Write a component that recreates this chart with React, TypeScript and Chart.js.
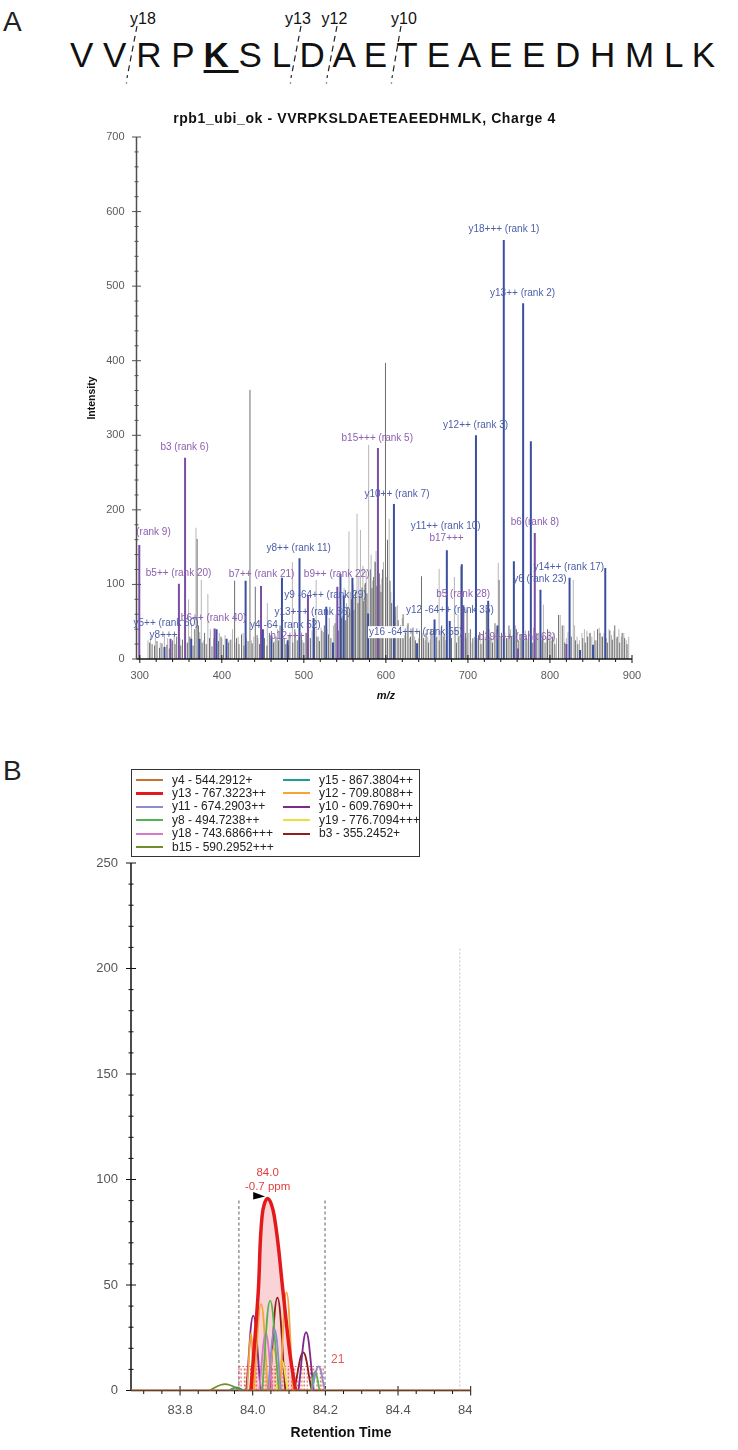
import { useEffect, useRef } from 'react'
import { Chart, registerables } from 'chart.js'

Chart.register(...registerables)

const FONT = '"Liberation Sans", Arial, Helvetica, sans-serif'

// ---------- A: peptide header ----------
const residues = ['V', 'V', 'R', 'P', 'K', 'S', 'L', 'D', 'A', 'E', 'T', 'E', 'A', 'E', 'E', 'D', 'H', 'M', 'L', 'K']
const modifiedResidue = 4
const cleavageLabels = ['y18', 'y13', 'y12', 'y10']

// ---------- A: annotated MS/MS spectrum ----------
const spectrumTitle = 'rpb1_ubi_ok - VVRPKSLDAETEAEEDHMLK, Charge 4'
const mzTicks = [300, 400, 500, 600, 700, 800, 900]
const intensityTicks = [0, 100, 200, 300, 400, 500, 600, 700]

// [m/z, intensity]
const yIonPeaks = [
  [330.15, 16], [362.7, 27], [372.8, 27], [393.6, 40], [405.8, 27], [429, 105], [450, 40], [460.4, 32],
  [473.3, 109], [480.3, 25], [494.7, 135], [511.9, 55], [527.3, 70], [535.5, 22], [544.6, 114], [548.6, 85],
  [559.2, 109], [578.3, 61], [609.8, 208], [638, 21], [659.3, 53], [674.3, 146], [677.8, 51], [692.5, 127],
  [709.8, 300], [724.7, 78], [736, 45], [743.7, 562], [756, 131], [767.3, 477], [776.7, 292], [788.4, 93],
  [823.9, 109], [836.6, 12], [852.5, 19], [867.4, 122],
]
const bIonPeaks = [
  [299.4, 153], [337.5, 27], [347.7, 101], [355.2, 270], [391.2, 41], [447.8, 98], [480.6, 18], [505, 85],
  [540.8, 97], [590.3, 283], [694.4, 72], [761, 14], [781.5, 169], [820, 20],
]
const darkPeaks = [
  [312, 22], [315, 20], [318, 18], [321, 24], [324, 15], [327, 21], [333, 19], [336, 14], [340, 25], [343, 20],
  [345, 30], [350, 18], [352, 26], [358, 22], [361, 30], [365, 18], [367, 40], [369.9, 161], [371.5, 45], [376, 22],
  [379, 35], [381, 20], [385, 28], [388, 17], [396, 24], [399, 30], [402, 19], [408, 22], [411, 26], [415.6, 105],
  [418, 28], [421, 20], [424, 33], [427, 18], [432, 24], [434.3, 361], [437, 21], [440.8, 97], [443, 32], [446, 20],
  [452, 28], [455, 18], [458, 35], [463, 22], [466, 30], [469, 25], [471, 45], [476, 28], [478, 20], [483, 31],
  [486.5, 22], [489, 40], [492, 25], [497, 30], [500, 22], [503, 35], [508, 28], [513, 42], [516, 30], [519, 24],
  [522, 38], [525, 45], [530, 33], [533, 28], [538, 48], [542, 38], [546, 55], [551, 52], [553, 70], [556, 62],
  [558, 80], [561, 66], [563, 90], [566, 75], [568, 85], [571, 96], [573, 78], [575, 102], [577, 88], [581, 120],
  [583, 95], [585, 110], [587, 130], [589, 98], [592, 115], [594, 90], [596, 120], [599.5, 397], [602, 160], [605, 105],
  [607, 75], [612, 70], [615, 52], [618, 45], [621, 60], [624, 35], [627, 48], [630, 30], [633, 42], [636, 25],
  [641, 38], [643.4, 111], [646, 28], [649, 35], [652, 22], [655, 40], [662, 30], [665, 25], [668, 45], [671, 33],
  [680, 28], [686, 22], [689, 30], [697, 35], [699, 66], [703, 40], [706, 28], [713, 32], [716, 20], [719, 38],
  [722.5, 66], [727, 30], [730, 22], [733, 48], [738, 106], [741, 35], [747, 28], [750, 45], [753, 30], [759, 40],
  [762, 25], [765, 33], [771, 28], [774, 38], [779, 22], [784, 35], [791, 30], [794, 22], [797, 40], [800, 25],
  [803, 30], [806, 20], [810.5, 59], [815, 45], [818, 22], [826, 30], [831, 25], [834, 20], [840, 28], [843, 22],
  [846, 30], [849, 35], [855, 25], [858, 40], [861, 35], [864, 30], [870, 22], [873, 38], [876, 26], [879, 45],
  [882, 30], [885, 22], [888, 35], [891, 28], [894, 20],
]
const lightPeaks = [
  [310, 25], [313, 30], [319, 28], [325, 22], [330, 34], [334, 28], [338, 22], [342, 35], [349, 28], [356, 20],
  [359.5, 80], [363, 48], [368.5, 176], [373, 36], [375, 106], [378, 25], [383, 87], [386, 40], [390, 28], [394, 22],
  [397, 35], [400, 28], [404, 32], [409, 25], [413, 40], [416, 22], [420, 30], [426, 35], [430, 28], [436, 25],
  [439, 30], [444, 28], [448, 22], [451, 38], [455.5, 75], [461, 30], [464, 24], [468, 40], [474, 30], [479, 22],
  [481, 32], [486, 130], [490, 28], [494, 32], [498, 25], [502, 35], [506, 28], [510, 38], [515, 106], [518, 30],
  [521, 42], [524, 36], [528, 40], [531, 55], [536, 45], [539, 60], [541, 52], [544, 70], [547, 58], [549, 95],
  [552, 75], [555, 171], [557, 90], [560, 100], [562, 82], [564.8, 195], [567, 110], [569, 173], [572, 125], [574, 100],
  [576, 118], [579, 287], [582, 140], [584, 105], [586.4, 131], [588, 145], [591, 120], [593, 100], [595, 108], [597, 130],
  [601, 110], [604, 188], [606, 90], [609, 80], [611, 60], [614, 72], [617, 40], [620, 55], [623, 32], [626, 45],
  [629, 28], [632, 38], [635, 30], [640, 28], [645, 35], [648, 25], [651, 30], [654, 26], [657, 35], [661, 28],
  [664.9, 121], [667, 38], [670, 30], [673, 25], [679, 35], [683.5, 110], [685, 42], [688, 60], [691, 124], [695, 30],
  [698, 28], [701, 35], [705, 22], [708, 30], [712, 28], [715, 35], [718, 25], [721, 30], [726, 40], [729, 28],
  [732, 35], [735, 40], [737, 129], [740, 30], [745, 35], [748, 28], [752, 40], [755, 32], [758, 45], [760, 35],
  [764, 28], [768, 30], [770, 38], [773, 25], [777, 30], [780, 42], [783, 28], [786, 35], [790, 25], [792, 73],
  [796, 30], [799, 38], [802, 25], [805, 35], [808, 28], [812.5, 59], [817, 45], [820, 28], [822, 36], [828.4, 106],
  [830, 45], [833, 30], [836, 25], [839, 35], [842, 40], [845, 38], [848, 35], [851, 30], [854, 38], [857, 25],
  [860, 42], [863, 30], [866, 35], [869, 28], [872, 40], [875, 32], [878, 38], [881, 28], [884, 40], [887, 30],
  [890, 35], [893, 25], [896, 30],
]

const fragmentLabels = [
  '(rank 9)', 'b3 (rank 6)', 'b5++ (rank 20)', 'y8++ (rank 11)', 'b7++ (rank 21)', 'b9++ (rank 22)',
  'y9 -64++ (rank 29)', 'y13+++ (rank 36)', 'y4 -64 (rank 52)', 'b12+++', 'y8+++', 'y5++ (rank 60)',
  'b6++ (rank 40)', 'b15+++ (rank 5)', 'y10++ (rank 7)', 'y16 -64+++ (rank 55)', 'y18+++ (rank 1)',
  'y13++ (rank 2)', 'y12++ (rank 3)', 'b6 (rank 8)', 'y11++ (rank 10)', 'b17+++', 'b5 (rank 28)',
  'y12 -64++ (rank 35)', 'b19+++ (rank 63)', 'y6 (rank 23)', 'y14++ (rank 17)',
]
const fragmentIonType = [
  'b', 'b', 'b', 'y', 'b', 'b', 'y', 'y', 'y', 'b', 'y', 'y', 'b', 'b', 'y', 'y', 'y', 'y', 'y', 'b', 'y', 'b', 'b',
  'y', 'b', 'y', 'y',
]
// label anchors (m/z, intensity) of each annotation text
const fragmentLabelMz = [
  316.7, 354.6, 347.3, 493.7, 448.5, 540, 526.3, 510.8, 477.5, 480, 329, 332, 390, 589.5, 613.5, 636.4, 743.8,
  766.6, 709.3, 781.7, 673, 674, 694.2, 678, 759.7, 787.8, 823,
]
const fragmentLabelIntensity = [
  170, 284, 115, 149, 113, 113, 86, 63, 45.6, 30.8, 32, 48, 55, 296, 221, 36, 576, 491, 314, 184, 178, 162, 87, 66,
  29.5, 107, 123,
]
const boxedLabel = 'y16 -64+++ (rank 55)'

// ---------- B: extracted ion chromatograms ----------
const transitionNames = [
  'y4 - 544.2912+', 'y13 - 767.3223++', 'y11 - 674.2903++', 'y8 - 494.7238++', 'y18 - 743.6866+++',
  'b15 - 590.2952+++', 'y15 - 867.3804++', 'y12 - 709.8088++', 'y10 - 609.7690++', 'y19 - 776.7094+++',
  'b3 - 355.2452+',
]
const transitionColors = [
  '#c8702f', '#e31a1c', '#8c8cd0', '#55b34f', '#d778c8', '#6f8f2f', '#1f9c98', '#f4a53a', '#7d2a8c', '#ece03a',
  '#8e1f1f',
]
const rtTicks = [83.8, 84.0, 84.2, 84.4, 84.6]
const areaTicks = [0, 50, 100, 150, 200, 250]

// each trace: list of peaks, each peak a list of [retention time, intensity]
const y4Trace = [[[83.665, 0], [84.6, 0]]]
const y13Trace = [[[83.995, 0], [84.015, 46], [84.026, 83], [84.041, 91], [84.059, 83], [84.084, 46], [84.102, 18], [84.118, 0]]]
const y11Trace = [[[84.042, 0], [84.06, 29], [84.078, 0]], [[84.163, 0], [84.181, 11.4], [84.199, 0]]]
const y8Trace = [[[84.026, 0], [84.048, 42.6], [84.072, 0]], [[84.16, 0], [84.172, 9], [84.184, 0]]]
const y18Trace = [[[84.018, 0], [84.036, 27], [84.054, 0]]]
const b15Trace = [[[83.88, 0], [83.924, 3], [83.968, 0]]]
const y15Trace = [[[83.935, 0], [83.955, 1.5], [83.975, 0]]]
const y12Trace = [
  [[83.985, 0], [83.995, 27], [84.003, 0]], [[84.003, 0], [84.023, 41], [84.042, 0]],
  [[84.044, 0], [84.058, 20], [84.074, 0]], [[84.075, 0], [84.093, 46.5], [84.111, 0]],
]
const y10Trace = [[[83.982, 0], [84.0015, 35.5], [84.022, 0]], [[84.126, 0], [84.147, 27.6], [84.168, 0]]]
const y19Trace = [[[84.064, 0], [84.08, 14], [84.096, 0]]]
const b3Trace = [[[84.046, 0], [84.068, 44], [84.09, 0]], [[84.114, 0], [84.139, 18], [84.162, 0]]]
const transitionTraces = [y4Trace, y13Trace, y11Trace, y8Trace, y18Trace, b15Trace, y15Trace, y12Trace, y10Trace, y19Trace, b3Trace]

const peakBoundaries = [83.962, 84.199]
const retentionMarker = [84.57, 210]
const redPointRts = [
  83.962, 83.968, 83.977, 83.985, 83.994, 84.003, 84.011, 84.02, 84.029, 84.037, 84.046, 84.055, 84.063, 84.072,
  84.081, 84.089, 84.098, 84.107, 84.116, 84.124, 84.133, 84.142, 84.15, 84.159, 84.168, 84.177, 84.186, 84.194,
]
const orangePointRts = [83.981, 84.008, 84.034, 84.06, 84.086, 84.112, 84.138, 84.164, 84.19]
const pointLevel = 11.4
const massErrorPpm = -0.7
const pointCount = 21

const sticks = (peaks: number[][]) =>
  peaks.flatMap(([m, v]) => [{ x: m, y: 0 }, { x: m, y: v }, { x: m, y: null }])

const traceData = (peaks: number[][][]) =>
  peaks.flatMap((peak) => [...peak.map(([x, y]) => ({ x, y })), { x: peak[peak.length - 1][0], y: null }])

const verticals = (xs: number[], top: number) =>
  xs.flatMap((v) => [{ x: v, y: 0 }, { x: v, y: top }, { x: v, y: null }])

function seg(ctx: CanvasRenderingContext2D, x1: number, y1: number, x2: number, y2: number) {
  ctx.beginPath()
  ctx.moveTo(x1, y1)
  ctx.lineTo(x2, y2)
  ctx.stroke()
}

function SequenceHeader() {
  // page positions of the cleavage marks: [label x, dash top x, dash bottom x]
  const marks = [[143, 137, 127], [298, 301, 291], [334.5, 337, 327], [404, 401, 392]]
  return (
    <>
      <div style={{ position: 'absolute', left: 3, top: 8, fontSize: 28, lineHeight: 1, color: '#222' }}>A</div>
      <div style={{ position: 'absolute', left: 70, top: 37, fontSize: 35, lineHeight: 1, whiteSpace: 'pre', color: '#111' }}>
        {residues.slice(0, modifiedResidue).join(' ') + ' '}
        <span style={{ fontWeight: 700, textDecoration: 'underline', textDecorationThickness: '3px', textUnderlineOffset: '3px' }}>
          {residues[modifiedResidue] + ' '}
        </span>
        {residues.slice(modifiedResidue + 1).join(' ')}
      </div>
      <svg width={738} height={95} style={{ position: 'absolute', left: 0, top: 0 }}>
        {cleavageLabels.map((label, i) => {
          const [lx, tx, bx] = marks[i]
          return (
            <g key={label}>
              <text x={lx} y={23.5} textAnchor="middle" fontSize={16} fontFamily={FONT} fill="#111">{label}</text>
              <line x1={tx} y1={26} x2={bx} y2={78} stroke="#222" strokeWidth={1.2} strokeDasharray="6 4" />
              <circle cx={bx - 0.5} cy={83} r={0.8} fill="#666" />
            </g>
          )
        })}
      </svg>
    </>
  )
}

function SpectrumChart() {
  const canvasRef = useRef<HTMLCanvasElement>(null)

  useEffect(() => {
    if (!canvasRef.current) return
    const chart = new Chart(canvasRef.current, {
      type: 'line',
      data: {
        datasets: [
          { label: 'y ions', data: sticks(yIonPeaks), borderColor: '#3b4f9f', borderWidth: 2, order: 1 },
          { label: 'b ions', data: sticks(bIonPeaks), borderColor: '#7b4ea6', borderWidth: 2, order: 2 },
          { label: 'other', data: sticks(darkPeaks), borderColor: '#6e6e6e', borderWidth: 1, order: 3 },
          { label: 'other (low)', data: sticks(lightPeaks), borderColor: '#b6b6b6', borderWidth: 1, order: 4 },
        ] as any,
      },
      options: {
        animation: false,
        responsive: false,
        events: [],
        layout: { padding: { left: 56.5, right: 28, top: 37, bottom: 51 } },
        plugins: { legend: { display: false }, tooltip: { enabled: false } },
        elements: { point: { radius: 0 }, line: { tension: 0, borderCapStyle: 'butt' } },
        scales: {
          x: { type: 'linear', min: 296, max: 900, display: false },
          y: { type: 'linear', min: 0, max: 700, display: false },
        },
      },
      plugins: [
        {
          id: 'spectrumFrame',
          afterDatasetsDraw: (c: Chart) => {
            const { ctx, chartArea: a } = c
            const x = c.scales.x
            const y = c.scales.y
            ctx.save()
            ctx.lineWidth = 1.5
            ctx.strokeStyle = '#505050'
            seg(ctx, a.left, a.top, a.left, a.bottom)
            ctx.strokeStyle = '#151515'
            seg(ctx, a.left, a.bottom, a.right, a.bottom)

            ctx.lineWidth = 1
            ctx.strokeStyle = '#505050'
            for (let v = 0; v <= 700; v += 20) {
              const py = y.getPixelForValue(v)
              const len = v % 100 === 0 ? 4.5 : 2
              seg(ctx, a.left - len, py, a.left + len, py)
            }
            ctx.strokeStyle = '#151515'
            for (let v = 300; v <= 900; v += 20) {
              const px = x.getPixelForValue(v)
              if (v % 100 === 0) seg(ctx, px, a.bottom - 4, px, a.bottom + 4)
              else seg(ctx, px, a.bottom, px, a.bottom + 3)
            }

            ctx.fillStyle = '#5a5a5a'
            ctx.font = `11px ${FONT}`
            ctx.textAlign = 'right'
            ctx.textBaseline = 'middle'
            intensityTicks.forEach((v) => ctx.fillText(String(v), a.left - 12, y.getPixelForValue(v)))
            ctx.textAlign = 'center'
            mzTicks.forEach((v) => ctx.fillText(String(v), x.getPixelForValue(v), a.bottom + 17))

            ctx.fillStyle = '#111'
            ctx.font = `bold italic 11px ${FONT}`
            ctx.fillText('m/z', (x.getPixelForValue(300) + a.right) / 2, a.bottom + 37)
            ctx.save()
            ctx.font = `bold 14px ${FONT}`
            ;(ctx as any).letterSpacing = '0.6px'
            ctx.fillText(spectrumTitle, a.left + 228, a.top - 18)
            ctx.restore()
            ctx.save()
            ctx.translate(a.left - 44.5, (a.top + a.bottom) / 2)
            ctx.rotate(-Math.PI / 2)
            ctx.font = `bold 10.5px ${FONT}`
            ctx.fillText('Intensity', 0, 0)
            ctx.restore()

            ctx.font = `10px ${FONT}`
            fragmentLabels.forEach((text, i) => {
              const px = x.getPixelForValue(fragmentLabelMz[i])
              const py = y.getPixelForValue(fragmentLabelIntensity[i])
              if (text === boxedLabel) {
                const w = ctx.measureText(text).width
                ctx.fillStyle = '#fff'
                ctx.fillRect(px - w / 2 - 1, py - 6, 36, 12)
              }
              ctx.fillStyle = fragmentIonType[i] === 'y' ? '#4d5ea8' : '#8d5fb0'
              ctx.fillText(text, px, py)
            })
            ctx.restore()
          },
        },
      ],
    })
    return () => chart.destroy()
  }, [])

  return <canvas ref={canvasRef} width={580} height={610} style={{ position: 'absolute', left: 80, top: 100 }} />
}

function ChromatogramChart() {
  const canvasRef = useRef<HTMLCanvasElement>(null)

  useEffect(() => {
    if (!canvasRef.current) return
    const apex = y13Trace[0].reduce((best, p) => (p[1] > best[1] ? p : best))
    const traceSets = transitionNames.map((name, i) => ({
      label: name,
      data: traceData(transitionTraces[i]),
      borderColor: transitionColors[i],
      borderWidth: i === 0 ? 2.2 : i === 1 ? 3.5 : 1.8,
      tension: 0.4,
      order: i === 0 ? 0 : i === 1 ? 1 : i + 1,
    }))
    const chart = new Chart(canvasRef.current, {
      type: 'line',
      data: {
        datasets: [
          ...traceSets,
          {
            label: 'y13 area',
            data: traceData(y13Trace),
            borderWidth: 0,
            borderColor: 'rgba(0,0,0,0)',
            backgroundColor: 'rgba(238,120,130,0.33)',
            fill: 'origin',
            tension: 0.4,
            order: 30,
          },
          {
            label: 'points',
            data: verticals(redPointRts, pointLevel),
            borderColor: '#e2505c',
            borderWidth: 1,
            borderDash: [2, 2],
            order: 20,
          },
          {
            label: 'points (orange)',
            data: verticals(orangePointRts, pointLevel),
            borderColor: '#f09a3a',
            borderWidth: 1,
            borderDash: [2, 2],
            order: 21,
          },
          {
            label: 'points level',
            data: [{ x: redPointRts[0], y: pointLevel }, { x: redPointRts[redPointRts.length - 1], y: pointLevel }],
            borderColor: '#e2505c',
            borderWidth: 1,
            borderDash: [1.5, 2],
            order: 22,
          },
          {
            label: 'boundaries',
            data: verticals(peakBoundaries, apex[1]),
            borderColor: '#7a7a7a',
            borderWidth: 1.2,
            borderDash: [3, 2.5],
            order: 23,
          },
          {
            label: 'marker',
            data: verticals([retentionMarker[0]], retentionMarker[1]),
            borderColor: '#c4c4c4',
            borderWidth: 1,
            borderDash: [2, 2],
            order: 24,
          },
        ] as any,
      },
      options: {
        animation: false,
        responsive: false,
        events: [],
        layout: { padding: { left: 71, right: 1.3, top: 8, bottom: 59.5 } },
        plugins: { legend: { display: false }, tooltip: { enabled: false } },
        elements: { point: { radius: 0 }, line: { borderCapStyle: 'butt' } },
        scales: {
          x: { type: 'linear', min: 83.665, max: 84.6, display: false },
          y: { type: 'linear', min: 0, max: 250, display: false },
        },
      },
      plugins: [
        {
          id: 'chromFrame',
          beforeDatasetsDraw: (c: Chart) => {
            const { ctx, chartArea: a } = c
            const x = c.scales.x
            const y = c.scales.y
            ctx.save()
            ctx.strokeStyle = '#111'
            ctx.lineWidth = 1.5
            seg(ctx, a.left, a.top, a.left, a.bottom)
            seg(ctx, a.left, a.bottom, a.right, a.bottom)
            ctx.lineWidth = 1
            for (let k = 0; k <= 25; k++) {
              const py = y.getPixelForValue(k * 10)
              const len = k % 5 === 0 ? 5 : 2.5
              seg(ctx, a.left - len, py, a.left + len, py)
            }
            for (let k = 1674; k <= 1692; k++) {
              const px = x.getPixelForValue(k * 0.05)
              if (k % 4 === 0) seg(ctx, px, a.bottom - 4.5, px, a.bottom + 5)
              else seg(ctx, px, a.bottom, px, a.bottom + 3.5)
            }
            ctx.fillStyle = '#555'
            ctx.font = `13px ${FONT}`
            ctx.textAlign = 'right'
            ctx.textBaseline = 'middle'
            areaTicks.forEach((v) => ctx.fillText(String(v), a.left - 13, y.getPixelForValue(v)))
            ctx.textAlign = 'center'
            rtTicks.forEach((v) => ctx.fillText(v.toFixed(1), x.getPixelForValue(v), a.bottom + 20))
            ctx.fillStyle = '#111'
            ctx.font = `bold 14px ${FONT}`
            ctx.fillText('Retention Time', a.left + 210, a.bottom + 42.5)
            ctx.restore()
          },
          afterDatasetsDraw: (c: Chart) => {
            const { ctx } = c
            const x = c.scales.x
            const y = c.scales.y
            const ax = x.getPixelForValue(apex[0])
            const ay = y.getPixelForValue(apex[1])
            ctx.save()
            ctx.fillStyle = '#e0403f'
            ctx.font = `11.5px ${FONT}`
            ctx.textAlign = 'center'
            ctx.textBaseline = 'middle'
            ctx.fillText(apex[0].toFixed(1), ax, ay - 26)
            ctx.fillText(`${massErrorPpm.toFixed(1)} ppm`, ax, ay - 12)
            ctx.fillStyle = '#000'
            ctx.beginPath()
            ctx.moveTo(ax - 14.4, ay - 6.5)
            ctx.lineTo(ax - 14.4, ay + 1)
            ctx.lineTo(ax - 2.5, ay - 2)
            ctx.closePath()
            ctx.fill()
            ctx.fillStyle = '#e05a5a'
            ctx.font = `12px ${FONT}`
            ctx.textAlign = 'left'
            ctx.fillText(String(pointCount), x.getPixelForValue(peakBoundaries[1]) + 6, y.getPixelForValue(pointLevel) - 7)
            ctx.restore()
          },
        },
      ],
    })
    return () => chart.destroy()
  }, [])

  return <canvas ref={canvasRef} width={412} height={595} style={{ position: 'absolute', left: 60, top: 855 }} />
}

function TransitionLegend() {
  const rows = 6
  return (
    <div
      style={{
        position: 'absolute', left: 131, top: 769, width: 287, height: 86, border: '1px solid #333',
        background: '#fff', fontSize: 12, color: '#222',
      }}
    >
      {transitionNames.map((name, i) => {
        const col = Math.floor(i / rows)
        const row = i % rows
        return (
          <div key={name} style={{ position: 'absolute', left: 4 + col * 147, top: 3.5 + row * 13.4, height: 13, display: 'flex', alignItems: 'center', whiteSpace: 'nowrap' }}>
            <span style={{ display: 'inline-block', width: 27, height: i === 1 ? 3 : 2, background: transitionColors[i], marginRight: 9 }} />
            <span style={{ lineHeight: '13px' }}>{name}</span>
          </div>
        )
      })}
    </div>
  )
}

export default function App() {
  return (
    <div style={{ position: 'absolute', left: 0, top: 0, width: 738, height: 1450, background: '#fff', fontFamily: FONT, overflow: 'hidden' }}>
      <SequenceHeader />
      <SpectrumChart />
      <div style={{ position: 'absolute', left: 3, top: 757, fontSize: 28, lineHeight: 1, color: '#222' }}>B</div>
      <ChromatogramChart />
      <TransitionLegend />
    </div>
  )
}
